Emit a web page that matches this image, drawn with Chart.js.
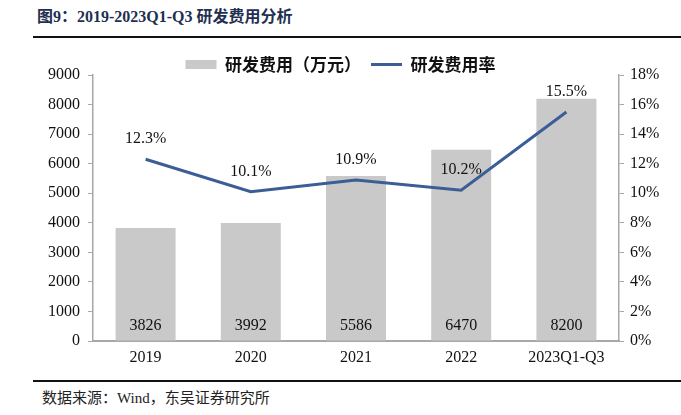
<!DOCTYPE html>
<html>
<head>
<meta charset="utf-8">
<script src="https://cdn.jsdelivr.net/npm/chart.js@4"></script>
<style>
  body { margin: 0; width: 681px; height: 415px; background: #fff; position: relative; overflow: hidden; }
  #title { position: absolute; left: 37px; top: 3px; font: bold 16px "Liberation Serif", "Noto Sans CJK SC"; color: #1f3052; }
  .rule { position: absolute; left: 33px; right: 0; height: 2px; background: #111; }
  #note { position: absolute; left: 42px; top: 386px; font: 15px "Liberation Serif", "Noto Sans CJK SC"; color: #222; }
  #box { position: absolute; left: 0; top: 40px; width: 681px; height: 340px; }
</style>
</head>
<body>
<div id="title">图9：2019-2023Q1-Q3 研发费用分析</div>
<div class="rule" style="top:36px"></div>
<div id="box"><canvas id="chart1"></canvas></div>
<div class="rule" style="top:380px"></div>
<div id="note">数据来源：Wind，东吴证券研究所</div>
<script>
const years = ['2019', '2020', '2021', '2022', '2023Q1-Q3'];
const rdCost = [3826, 3992, 5586, 6470, 8200];
const rdRate = [12.3, 10.1, 10.9, 10.2, 15.5];
const leftTicks = [0, 9000, 1000];
const rightTicks = [0, 18, 2];

const serif = '"Liberation Serif", "Times New Roman", serif';

// value labels: costs near the bar base, rates above the line
const labelPlugin = {
    id: 'labels',
    afterDatasetsDraw(chart) {
        const ctx = chart.ctx;
        ctx.save();
        ctx.font = '16px ' + serif;
        ctx.fillStyle = '#111';
        ctx.textAlign = 'center';
        ctx.textBaseline = 'middle';
        const base = chart.scales.y.getPixelForValue(0);
        chart.getDatasetMeta(0).data.forEach((bar, i) => {
            ctx.fillText(String(rdCost[i]), bar.x, base - 15);
        });
        chart.getDatasetMeta(1).data.forEach((pt, i) => {
            ctx.fillText(rdRate[i].toFixed(1) + '%', pt.x, pt.y - 20);
        });
        ctx.restore();
    }
};

const ctx1 = document.getElementById('chart1').getContext('2d');
const chart1 = new Chart(ctx1, {
    type: 'bar',
    data: {
        labels: years,
        datasets: [{
            label: '研发费用（万元）',
            data: rdCost,
            backgroundColor: '#c9c9c9',
            barPercentage: 0.57,
            categoryPercentage: 1,
            yAxisID: 'y',
            order: 2
        }, {
            type: 'line',
            label: '研发费用率',
            data: rdRate,
            borderColor: '#3b5e96',
            backgroundColor: '#3b5e96',
            borderWidth: 3,
            pointRadius: 0,
            fill: false,
            yAxisID: 'y1',
            order: 1
        }]
    },
    options: {
        responsive: true,
        maintainAspectRatio: false,
        animation: false,
        layout: { padding: { top: 6, right: 0, left: 0, bottom: 0 } },
        plugins: {
            tooltip: { enabled: false },
            legend: {
                position: 'top',
                maxHeight: 29,
                labels: {
                    usePointStyle: true,
                    pointStyleWidth: 31,
                    boxHeight: 9,
                    padding: 10,
                    color: '#111',
                    font: { family: '"Noto Sans CJK SC", ' + serif, size: 17, weight: 'bold' },
                    generateLabels(chart) {
                        return chart.data.datasets.map((ds, i) => ({
                            text: ds.label,
                            datasetIndex: i,
                            fillStyle: i === 0 ? '#c9c9c9' : '#3b5e96',
                            strokeStyle: i === 0 ? '#c9c9c9' : '#3b5e96',
                            lineWidth: i === 0 ? 0 : 3,
                            pointStyle: i === 0 ? 'rect' : 'line',
                            fontColor: '#111'
                        }));
                    }
                }
            }
        },
        scales: {
            x: {
                afterFit(scale) { scale.height = 39; },
                grid: { display: false, drawTicks: false },
                border: { color: '#a8a8a8', width: 2 },
                ticks: { color: '#111', padding: 7, font: { family: serif, size: 16 } }
            },
            y: {
                position: 'left',
                min: leftTicks[0],
                max: leftTicks[1],
                afterFit(scale) { scale.width = 93; },
                grid: { drawOnChartArea: false, tickLength: 5, color: '#a8a8a8' },
                border: { color: '#a8a8a8', width: 1.5 },
                ticks: {
                    stepSize: leftTicks[2],
                    color: '#111',
                    padding: 8,
                    font: { family: serif, size: 16 },
                    callback: v => String(v)
                }
            },
            y1: {
                position: 'right',
                min: rightTicks[0],
                max: rightTicks[1],
                afterFit(scale) { scale.width = 62; },
                grid: { drawOnChartArea: false, tickLength: 5, color: '#a8a8a8' },
                border: { color: '#a8a8a8', width: 1.5 },
                ticks: {
                    stepSize: rightTicks[2],
                    color: '#111',
                    padding: 6,
                    font: { family: serif, size: 16 },
                    callback: v => v + '%'
                }
            }
        }
    },
    plugins: [labelPlugin]
});
</script>
</body>
</html>
